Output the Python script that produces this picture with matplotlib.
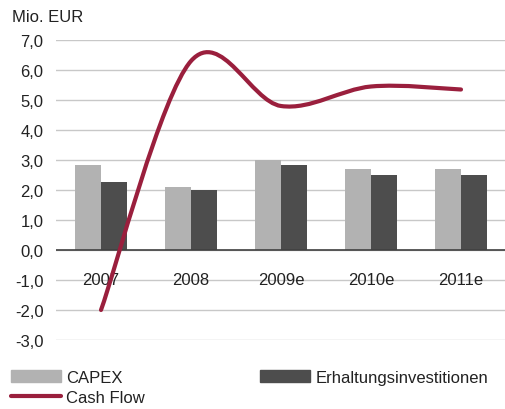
import matplotlib
matplotlib.use("Agg")
import matplotlib.pyplot as plt
from matplotlib.path import Path
from matplotlib.patches import PathPatch
from matplotlib.lines import Line2D
from matplotlib.patches import Patch
import numpy as np

plt.rcParams["font.family"] = ["Liberation Sans", "DejaVu Sans"]
plt.rcParams["font.size"] = 12
plt.rcParams["text.color"] = "#222222"

years = ["2007", "2008", "2009e", "2010e", "2011e"]
capex = [2.83, 2.1, 3.0, 2.7, 2.7]
erhaltung = [2.27, 2.0, 2.83, 2.5, 2.5]
cash_flow = [-2.0, 6.3, 4.8, 5.45, 5.35]

C_CAPEX = "#b2b2b2"
C_ERH = "#4d4d4d"
C_CF = "#9a1f3d"


def smooth_path(xs, ys, k=1 / 6):
    # Excel-like smoothed line: cubic Bezier through the points
    pts = np.column_stack([xs, ys]).astype(float)
    n = len(pts)
    verts = [pts[0]]
    codes = [Path.MOVETO]
    for i in range(n - 1):
        p_prev = pts[i - 1] if i > 0 else pts[i]
        p_next = pts[i + 2] if i + 2 < n else pts[i + 1]
        c1 = pts[i] + (pts[i + 1] - p_prev) * k
        c2 = pts[i + 1] - (p_next - pts[i]) * k
        verts += [c1, c2, pts[i + 1]]
        codes += [Path.CURVE4] * 3
    return Path(verts, codes)


fig = plt.figure(figsize=(5.06, 4.10), dpi=100)
ax = fig.add_axes([56 / 506, 69 / 410, 450 / 506, 300 / 410])

x = np.arange(len(years))
w = 0.29
ax.bar(x - w / 2, capex, w, color=C_CAPEX, zorder=2)
ax.bar(x + w / 2, erhaltung, w, color=C_ERH, zorder=2)

ax.add_patch(PathPatch(smooth_path(x, cash_flow), facecolor="none",
                       edgecolor=C_CF, lw=3, capstyle="round", zorder=4))

ax.set_xlim(-0.5, len(years) - 0.5)
ax.set_ylim(-3, 7)
ax.set_yticks(np.arange(-3, 8, 1))
ax.set_yticklabels([f"{v:.1f}".replace(".", ",") for v in np.arange(-3, 8, 1)])
ax.tick_params(axis="y", length=0, pad=9, labelsize=12, labelcolor="#222222")
ax.set_xticks([])
ax.yaxis.grid(True, color="#c8c8c8", lw=1)
ax.set_axisbelow(True)
for s in ax.spines.values():
    s.set_visible(False)
ax.axhline(0, color="#404040", lw=1.2, zorder=3)

for i, lab in enumerate(years):
    ax.annotate(lab, (i, 0), xytext=(0, -21), textcoords="offset points",
                ha="center", va="center", fontsize=12)

fig.text(12 / 506, 1 - 17 / 410, "Mio. EUR", ha="left", va="center", fontsize=12)

handles = [Patch(color=C_CAPEX), Line2D([], [], color=C_CF, lw=3, solid_capstyle="round"),
           Patch(color=C_ERH)]
labels = ["CAPEX", "Cash Flow", "Erhaltungsinvestitionen"]
fig.legend(handles, labels, ncol=2, loc="upper left",
           bbox_to_anchor=(4 / 506, 1 - 364 / 410), frameon=False,
           handlelength=3.0, handletextpad=0.35, labelspacing=0.3,
           columnspacing=6.9, borderaxespad=0, fontsize=12)

fig.savefig("out.png", dpi=100)
